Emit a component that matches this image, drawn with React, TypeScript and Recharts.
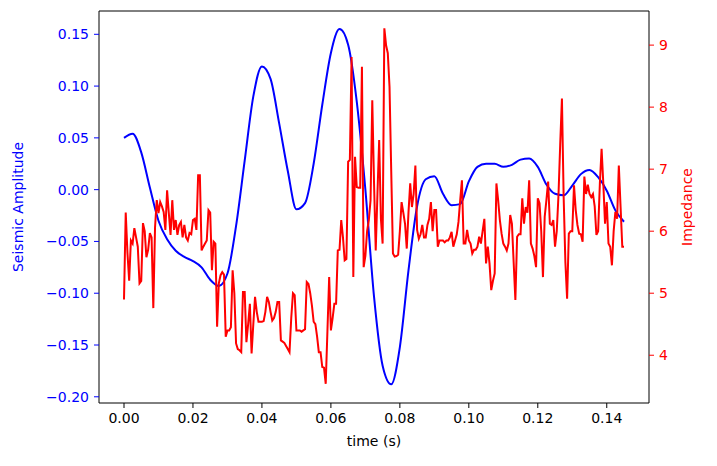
import { Label, Line, LineChart, ReferenceLine, XAxis, YAxis } from "recharts";

// seismic trace, sampled every 2.5 ms
const AMP_DT = 0.0025;
const amplitude = [
  0.05, 0.054, 0.036, 0.002, -0.03, -0.048, -0.059, -0.065, -0.069, -0.075,
  -0.087, -0.093, -0.081, -0.035, 0.028, 0.09, 0.119, 0.107, 0.064, 0.018,
  -0.019, -0.013, 0.025, 0.082, 0.132, 0.155, 0.14, 0.085, 0.0, -0.103,
  -0.17, -0.188, -0.152, -0.078, -0.016, 0.01, 0.013, -0.004, -0.015, -0.014,
  0.008, 0.022, 0.025, 0.025, 0.022, 0.024, 0.029, 0.03, 0.022, 0.005,
  -0.004, -0.0055, 0.004, 0.015, 0.019, 0.012, -0.001, -0.02, -0.031,
];

// impedance log, sampled every 0.5 ms
const IMP_DT = 0.0005;
const impedance = [
  4.9, 6.3, 5.65, 5.2, 5.85, 5.8, 6.05, 5.9, 5.75, 5.16,
  5.2, 6.13, 6.0, 5.58, 5.7, 5.97, 5.9, 4.76, 6.06, 6.5,
  6.29, 6.47, 6.4, 6.31, 6.02, 6.66, 6.29, 5.94, 6.5, 6.02,
  6.18, 5.94, 6.1, 6.15, 5.9, 6.1, 5.9, 5.85, 5.97, 5.95,
  6.18, 6.2, 6.02, 6.9, 6.9, 5.69, 5.75, 5.8, 5.85, 6.34,
  6.3, 5.37, 5.83, 5.8, 4.46, 5.16, 5.29, 5.34, 5.3, 4.3,
  4.4, 4.4, 4.45, 5.37, 5.0, 4.19, 4.1, 4.08, 4.05, 5.02,
  5.02, 4.21, 4.5, 4.83, 4.03, 4.5, 4.94, 4.7, 4.54, 4.54,
  4.54, 4.55, 4.7, 4.94, 4.86, 4.7, 4.56, 4.6, 4.7, 4.86,
  4.86, 4.24, 4.22, 4.2, 4.15, 4.1, 4.05, 4.6, 5.0, 4.97,
  4.4, 4.4, 4.4, 4.38, 4.4, 4.42, 5.18, 5.15, 5.0, 4.8,
  4.54, 4.5, 4.3, 4.05, 4.05, 3.81, 3.8, 3.54, 4.4, 5.26,
  4.4, 4.6, 4.83, 4.83, 5.69, 5.7, 6.18, 5.9, 5.53, 5.55,
  7.12, 7.15, 8.81, 5.26, 7.2, 6.71, 6.7, 6.7, 8.65, 5.42,
  5.6, 6.0, 6.18, 6.5, 8.11, 6.8, 5.69, 6.6, 7.47, 6.2,
  5.8, 9.27, 9.0, 8.87, 8.33, 6.96, 5.64, 5.59, 5.6, 5.62,
  6.0, 6.47, 6.3, 6.12, 5.72, 6.3, 6.77, 6.39, 6.6, 7.06,
  6.02, 5.88, 5.95, 6.1, 5.9, 5.9, 6.1, 6.2, 6.47, 6.0,
  6.34, 6.34, 5.75, 5.85, 5.85, 5.85, 5.82, 5.85, 5.85, 5.9,
  5.99, 5.75, 5.85, 5.95, 6.15, 6.5, 6.82, 5.8, 5.8, 6.02,
  5.85, 5.8, 5.64, 5.7, 5.7, 5.75, 5.91, 5.8, 6.0, 6.2,
  5.48, 5.75, 5.48, 5.05, 5.2, 5.32, 6.77, 6.5, 6.18, 5.96,
  5.8, 5.75, 5.69, 5.8, 6.26, 6.12, 5.5, 4.89, 5.91, 5.95,
  5.95, 6.53, 6.12, 6.39, 6.3, 6.82, 5.8, 5.72, 5.6, 5.42,
  6.53, 6.45, 6.0, 5.26, 6.23, 6.5, 6.8, 6.12, 6.1, 6.18,
  5.75, 6.0, 6.58, 7.4, 8.14, 6.55, 5.5, 4.91, 5.96, 6.0,
  6.0, 6.74, 6.34, 6.1, 5.96, 5.95, 5.83, 6.88, 6.6, 6.75,
  6.6, 6.55, 6.6, 6.4, 5.94, 6.0, 6.77, 7.33, 6.77, 6.12,
  6.47, 5.8, 5.75, 5.45, 6.0, 6.31, 6.2, 7.06, 6.4, 5.75,
  5.75,
];

const timeTicks = [0, 0.02, 0.04, 0.06, 0.08, 0.1, 0.12, 0.14];
const ampTicks = [-0.2, -0.15, -0.1, -0.05, 0, 0.05, 0.1, 0.15];
const impTicks = [4, 5, 6, 7, 8, 9];

const timeDomain = [-0.00725, 0.15225];
const ampDomain = [-0.206, 0.1725];
const impDomain = [3.23, 9.55];

const ampData = amplitude.map((v, i) => ({ t: i * AMP_DT, v }));
const impData = impedance.map((v, i) => ({ t: i * IMP_DT, v }));

const FONT = "DejaVu Sans";
const BLUE = "#0000ff";
const RED = "#ff0000";

const fmtAmp = (v: number) => {
  const s = Math.abs(v).toFixed(2);
  return v < -1e-9 ? `\u2212${s}` : s;
};

const LeftTitle = ({ viewBox }: any) => {
  const cx = viewBox.x + 8;
  const cy = viewBox.y + viewBox.height / 2;
  return (
    <text
      x={cx}
      y={cy}
      transform={`rotate(-90 ${cx} ${cy})`}
      textAnchor="middle"
      dominantBaseline="central"
      fill={BLUE}
      fontSize={14}
      fontFamily={FONT}
    >
      Seismic Amplitude
    </text>
  );
};

const RightTitle = ({ viewBox }: any) => {
  const cx = viewBox.x + 38;
  const cy = viewBox.y + viewBox.height / 2;
  return (
    <text
      x={cx}
      y={cy}
      transform={`rotate(-90 ${cx} ${cy})`}
      textAnchor="middle"
      dominantBaseline="central"
      fill={RED}
      fontSize={14}
      fontFamily={FONT}
    >
      Impedance
    </text>
  );
};

const BottomTitle = ({ viewBox }: any) => (
  <text
    x={viewBox.x + viewBox.width / 2}
    y={viewBox.y + 43}
    textAnchor="middle"
    fill="#000"
    fontSize={14}
    fontFamily={FONT}
  >
    time (s)
  </text>
);

export default function App() {
  return (
    <div style={{ background: "#fff", width: 717, height: 466 }}>
      <style>{`body{margin:0}`}</style>
      <LineChart
        width={717}
        height={466}
        margin={{ top: 11, right: 10, left: 10, bottom: 8 }}
        style={{ fontFamily: FONT }}
      >
        <XAxis
          dataKey="t"
          type="number"
          domain={timeDomain}
          allowDataOverflow
          ticks={timeTicks}
          tickFormatter={(v: number) => v.toFixed(2)}
          height={55}
          tickSize={5}
          tickMargin={5}
          tick={{ fill: "#000", fontSize: 14, fontFamily: FONT }}
          tickLine={{ stroke: "#000" }}
          axisLine={{ stroke: "#000" }}
        >
          <Label content={BottomTitle} />
        </XAxis>
        <YAxis
          yAxisId="left"
          type="number"
          domain={ampDomain}
          allowDataOverflow
          ticks={ampTicks}
          tickFormatter={fmtAmp}
          width={89}
          tickSize={5}
          tickMargin={5}
          tick={{ fill: BLUE, fontSize: 14, fontFamily: FONT }}
          tickLine={{ stroke: BLUE }}
          axisLine={{ stroke: "#000" }}
        >
          <Label content={LeftTitle} />
        </YAxis>
        <YAxis
          yAxisId="right"
          orientation="right"
          type="number"
          domain={impDomain}
          allowDataOverflow
          ticks={impTicks}
          width={58}
          tickSize={5}
          tickMargin={5}
          tick={{ fill: RED, fontSize: 14, fontFamily: FONT }}
          tickLine={{ stroke: RED }}
          axisLine={{ stroke: "#000" }}
        >
          <Label content={RightTitle} />
        </YAxis>
        {/* top spine of the box */}
        <ReferenceLine yAxisId="left" y={ampDomain[1]} stroke="#000" strokeWidth={1} />
        <Line
          yAxisId="left"
          data={ampData}
          dataKey="v"
          type="monotone"
          stroke={BLUE}
          strokeWidth={2}
          dot={false}
          activeDot={false}
          isAnimationActive={false}
        />
        <Line
          yAxisId="right"
          data={impData}
          dataKey="v"
          type="linear"
          stroke={RED}
          strokeWidth={2}
          dot={false}
          activeDot={false}
          isAnimationActive={false}
        />
      </LineChart>
    </div>
  );
}
